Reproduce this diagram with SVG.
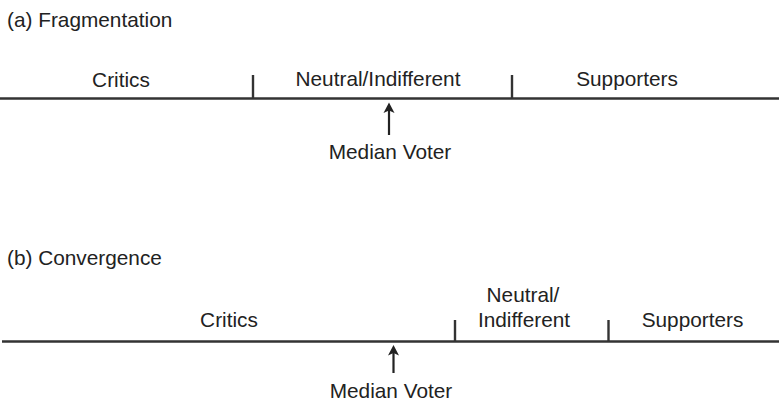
<svg xmlns="http://www.w3.org/2000/svg" width="779" height="407" viewBox="0 0 779 407">
<style>
text{font-family:"Liberation Sans",Arial,sans-serif;font-size:20.8px;fill:#222}
.c{text-anchor:middle}
.axis{stroke:#333;stroke-width:2.6;fill:none}
.tick{stroke:#333;stroke-width:2.4;fill:none}
.arr{stroke:#222;stroke-width:2.2;fill:none}
.head{fill:#222;stroke:none}
</style>
<rect width="779" height="407" fill="#fff"/>
<g id="panel-a">
<text id="title-a" x="7" y="26.5">(a) Fragmentation</text>
<g id="critics-a"><text class="c" x="121" y="87">Critics</text></g>
<g id="neutral-a"><text class="c" x="378" y="86">Neutral/Indifferent</text></g>
<g id="supporters-a"><text class="c" x="627" y="86">Supporters</text></g>
<g id="median-a"><text class="c" x="390" y="159">Median Voter</text></g>
</g>
<g id="panel-b">
<text id="title-b" x="7" y="265">(b) Convergence</text>
<g id="critics-b"><text class="c" x="229" y="327">Critics</text></g>
<g id="neutral-b"><text class="c" x="523" y="302">Neutral/</text><text class="c" x="524" y="327">Indifferent</text></g>
<g id="supporters-b"><text class="c" x="692.5" y="327">Supporters</text></g>
<g id="median-b"><text class="c" x="391" y="398">Median Voter</text></g>
</g>
<g id="connectors">
<line class="axis" x1="0" y1="98.5" x2="779" y2="98.5"/>
<line class="tick" x1="253" y1="75" x2="253" y2="99"/>
<line class="tick" x1="512" y1="75" x2="512" y2="99"/>
<line class="arr" x1="389" y1="110" x2="389" y2="135"/>
<path class="head" d="M389,102.5 L394.5,113 L389,110.5 L383.5,113 Z"/>
<line class="axis" x1="2" y1="341.5" x2="779" y2="341.5"/>
<line class="tick" x1="455" y1="320" x2="455" y2="342"/>
<line class="tick" x1="608.5" y1="320" x2="608.5" y2="342"/>
<line class="arr" x1="393.5" y1="352" x2="393.5" y2="373"/>
<path class="head" d="M393.5,345 L399,355.5 L393.5,353 L388,355.5 Z"/>
</g>
</svg>
